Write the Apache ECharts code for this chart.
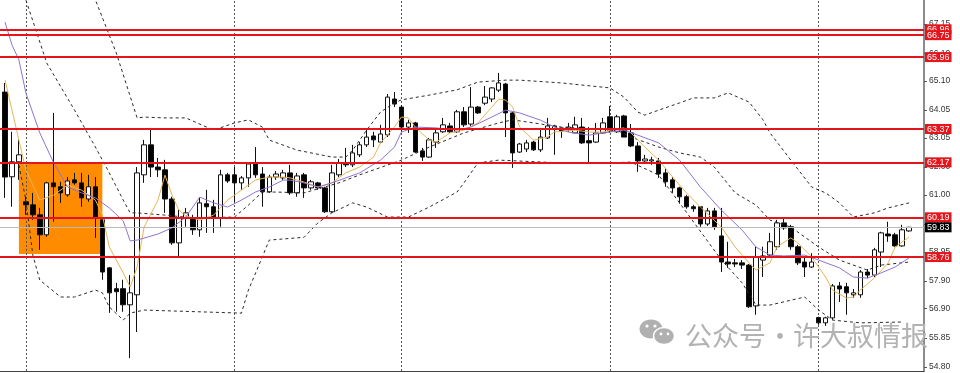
<!DOCTYPE html>
<html><head><meta charset="utf-8">
<script src="https://cdn.jsdelivr.net/npm/echarts@6/dist/echarts.min.js"></script>
<style>html,body{margin:0;padding:0;background:#fff}#c{width:960px;height:373px}</style>
</head><body><div id="c"></div>
<script>
// ---- data ----
const opens = [64.70,61.65,62.19,60.75,60.64,60.28,59.56,61.43,61.29,61.00,
61.54,61.43,60.85,61.29,60.10,58.37,57.62,57.62,57.04,57.40,
61.72,62.80,62.00,61.90,60.85,59.27,60.17,60.17,59.74,60.68,
60.57,60.17,61.72,61.72,61.43,61.61,62.15,61.75,61.11,61.64,
61.61,61.79,61.07,61.72,61.25,61.43,61.25,60.39,61.72,62.15,
62.08,62.44,62.80,63.12,62.90,63.16,64.45,64.16,63.44,63.59,
62.58,62.36,62.90,63.27,63.48,63.27,63.99,63.55,64.16,64.30,
64.45,64.77,64.99,63.95,62.54,62.65,62.90,62.62,63.05,63.37,
63.41,63.34,63.23,63.44,62.95,62.90,63.23,63.81,63.27,63.84,
63.23,62.76,62.22,62.22,62.22,61.79,61.54,61.25,60.93,60.57,
60.57,59.95,60.42,59.52,58.58,58.55,58.55,58.47,57.00,58.65,
58.83,59.13,59.99,59.85,59.13,58.58,58.40,56.58,56.39,56.57,
57.72,57.69,57.40,57.40,58.22,58.11,58.94,59.59,59.56,59.16,
59.70];
const highs = [65.03,63.27,62.98,60.93,61.07,60.53,61.47,63.95,61.47,61.64,
61.79,61.79,61.72,61.64,60.17,58.40,57.83,57.94,58.11,62.00,
62.98,63.41,62.33,62.26,60.93,60.46,60.53,60.28,60.89,61.18,
60.82,61.90,61.79,62.00,61.68,62.15,62.72,62.00,61.72,61.86,
61.90,62.08,61.79,61.79,61.54,61.47,61.29,62.08,62.29,62.69,
62.80,62.90,63.34,63.27,63.52,64.63,64.70,64.23,63.70,63.63,
62.69,63.05,63.34,63.77,63.59,64.06,64.16,64.88,64.20,64.92,
64.88,65.39,65.03,63.99,62.87,62.98,62.95,63.41,63.77,63.52,
63.41,63.59,63.81,63.77,63.44,63.59,63.77,64.20,63.88,63.88,
63.55,62.90,62.44,62.37,62.33,61.97,61.64,61.29,61.00,60.64,
60.57,60.53,60.53,60.53,59.31,58.69,58.65,58.51,59.13,59.13,
59.63,60.10,60.17,59.92,59.20,58.76,58.90,56.61,56.61,57.79,
57.86,57.83,57.61,58.29,58.33,59.09,59.67,60.03,59.63,59.92,
59.85];
const lows = [60.89,60.57,61.54,60.28,60.10,59.02,59.49,60.03,60.71,60.93,
61.36,60.57,60.75,59.45,57.94,56.75,56.79,56.79,55.12,56.06,
61.43,61.64,61.64,60.35,59.20,58.76,59.85,59.56,59.49,59.63,
59.63,59.85,61.43,60.75,61.18,61.29,61.61,60.57,61.07,61.54,
61.54,61.00,60.93,60.89,61.18,61.18,60.35,60.35,61.64,62.00,
62.00,62.36,62.72,62.72,62.87,63.08,64.16,63.27,63.23,62.51,
62.22,62.33,62.69,63.23,63.23,63.23,63.44,63.48,63.91,64.23,
64.34,64.70,63.08,61.97,62.51,62.54,62.58,62.54,63.01,62.44,
63.05,63.27,63.23,62.83,62.15,62.87,63.19,63.23,63.23,63.08,
62.72,61.83,62.15,62.08,61.61,61.29,61.07,60.68,60.50,60.39,
59.85,59.88,59.74,58.22,58.37,58.40,58.33,56.93,56.68,58.04,
58.76,59.02,59.74,59.02,58.47,58.04,58.37,56.32,56.28,56.50,
57.14,56.68,57.29,57.29,58.00,58.04,58.40,59.31,59.13,59.13,
59.67];
const closes = [61.64,62.19,62.44,60.64,60.28,59.56,61.43,61.29,61.07,61.50,
61.43,60.89,61.29,60.17,58.22,57.47,57.51,57.04,57.47,61.79,
62.80,62.00,61.90,60.85,59.27,60.17,60.35,59.74,60.71,60.57,
60.17,61.72,61.50,61.43,61.61,62.11,61.72,61.11,61.64,61.75,
61.79,61.07,61.68,61.25,61.47,61.25,60.39,61.79,62.15,62.08,
62.51,62.80,63.08,62.98,63.19,64.52,64.27,63.44,63.59,62.54,
62.36,62.98,63.23,63.52,63.27,63.99,63.52,64.16,63.95,64.52,
64.85,65.03,63.95,62.51,62.83,62.87,62.62,63.08,63.48,63.48,
63.30,63.44,63.52,62.87,62.87,63.23,63.59,63.30,63.81,63.08,
62.76,62.22,62.29,62.26,61.75,61.47,61.25,60.93,60.57,60.50,
59.95,60.42,59.85,58.58,58.51,58.51,58.47,56.97,58.76,58.80,
59.31,59.99,59.81,59.13,58.55,58.40,58.58,56.39,56.57,57.72,
57.61,57.47,57.47,58.22,58.11,59.02,59.63,59.52,59.16,59.74,
59.83];

// indicator lines read at sampled bars: [barIndex, value]
const maFast = [[0,65.14],[2,62.97],[3,61.89],[5,60.81],[7,60.99],[9,61.35],[11,61.17],[13,60.81],[14,60.27],[15,59.12],[17,58.19],[18,57.68],[19,58.40],[20,59.84],[22,60.81],[23,61.71],[24,61.00],[25,60.45],[26,60.24],[28,60.09],[30,60.27],[32,60.81],[34,61.17],[36,61.53],[38,61.64],[40,61.64],[41,61.61],[43,61.46],[45,61.28],[47,61.43],[49,61.79],[51,62.00],[53,62.36],[54,62.87],[56,63.44],[57,63.80],[58,63.77],[59,63.44],[61,62.97],[62,62.90],[64,63.23],[66,63.33],[68,63.59],[70,64.16],[71,64.45],[72,64.41],[73,64.16],[74,63.44],[76,62.97],[78,63.08],[79,63.26],[82,63.33],[84,63.26],[86,63.26],[87,63.33],[89,63.41],[90,63.23],[92,62.72],[94,62.25],[96,61.64],[98,61.07],[100,60.56],[103,59.84],[105,59.12],[107,58.55],[108,58.29],[110,58.55],[111,59.12],[113,59.45],[114,59.27],[116,58.76],[118,58.04],[119,57.57],[121,57.28],[122,57.32],[123,57.57],[125,58.00],[127,58.55],[128,59.12],[130,59.48]];
const maSlow = [[0,67.22],[1,66.40],[2,65.86],[3,64.67],[5,63.23],[7,62.15],[9,61.28],[11,61.07],[13,60.89],[15,60.53],[17,60.06],[18,59.34],[19,59.37],[22,59.59],[24,59.81],[26,60.20],[28,60.92],[30,60.71],[32,60.56],[34,60.81],[36,61.10],[38,61.28],[40,61.53],[41,61.53],[43,61.43],[45,61.28],[47,61.43],[49,61.61],[51,61.79],[54,62.25],[56,62.72],[57,63.26],[59,63.44],[62,63.41],[65,63.33],[67,63.44],[70,63.80],[72,64.05],[74,63.95],[77,63.69],[79,63.44],[81,63.26],[84,63.15],[87,63.26],[89,63.33],[91,63.15],[94,62.87],[97,62.25],[100,61.28],[103,60.45],[106,59.73],[108,59.12],[110,58.83],[112,58.80],[115,58.83],[117,58.65],[120,58.37],[122,58.04],[124,58.00],[126,58.19],[128,58.40],[130,58.73]];
const bbUpper = [[10,69.74],[13,68.02],[16,66.11],[19,63.77],[20,63.80],[23,63.77],[26,63.77],[30,63.33],[33,63.59],[35,63.70],[37,63.44],[38,62.97],[42,62.61],[47,62.36],[49,62.36],[50,62.61],[52,63.33],[54,63.98],[56,64.31],[57,64.42],[61,64.59],[65,64.78],[68,65.06],[72,65.13],[74,65.13],[80,65.03],[87,64.85],[89,64.52],[91,63.98],[92,63.87],[94,64.05],[97,64.31],[99,64.49],[102,64.49],[104,64.67],[107,64.34],[109,63.70],[110,63.23],[113,62.25],[116,61.28],[118,61.07],[120,60.71],[122,60.20],[125,60.35],[127,60.53],[130,60.71]];
const bbMiddle = [[0,69.80],[3,68.02],[6,65.75],[10,64.05],[13,62.72],[15,61.79],[17,60.81],[18,60.35],[19,60.35],[23,60.27],[27,60.17],[33,60.20],[35,60.63],[37,61.10],[39,61.10],[43,61.07],[48,61.43],[51,61.72],[57,62.25],[61,62.72],[66,63.23],[71,63.59],[73,63.70],[80,63.44],[88,63.33],[90,63.08],[94,62.72],[97,62.51],[100,62.36],[102,62.00],[105,61.07],[108,60.63],[110,60.09],[113,59.84],[117,59.12],[120,58.65],[124,58.29],[126,58.47],[130,58.58]];
const bbLower = [[2,62.07],[3,60.81],[4,58.83],[5,57.93],[8,57.32],[10,57.32],[13,57.57],[14,57.47],[15,56.96],[17,56.49],[18,56.74],[20,56.85],[34,56.74],[35,57.57],[37,58.76],[38,59.37],[43,59.47],[45,59.99],[47,60.35],[50,60.71],[52,60.56],[55,60.20],[58,60.20],[61,60.56],[65,61.10],[66,61.43],[67,61.79],[68,62.15],[71,62.25],[80,62.15],[87,62.15],[90,62.18],[94,61.71],[97,60.71],[103,58.66],[106,57.83],[108,57.03],[110,57.03],[115,57.32],[117,56.85],[119,56.49],[123,56.39],[129,56.42]];

const redLevels = [66.96, 66.75, 65.96, 63.37, 62.17, 60.19, 58.76];
const lastPrice = 59.83;
const yTicks = [54.80, 55.85, 56.90, 57.90, 58.95, 59.95, 61.00, 62.00, 63.05, 64.05, 65.10, 66.10, 67.15];
const periodBars = [3, 33, 57, 87, 117];
const boxBars = [2, 14];
const boxPrices = [62.17, 58.87];
const watermark = ['公众号', '·', '许大叔情报'];

// ---- chart ----
const chart = echarts.init(document.getElementById('c'), null, {renderer: 'canvas'});
const candles = closes.map((c, i) => [i, opens[i], c, lows[i], highs[i]]);
const lblStyle = (bg) => ({show: true, position: 'end', distance: 1, formatter: p => Number(p.value).toFixed(2),
  backgroundColor: bg, color: '#fff', fontSize: 9, fontFamily: 'Liberation Sans', padding: [1, 2, 0, 2], lineHeight: 9});
const levelLines = redLevels.map(v => ({yAxis: v, lineStyle: {color: '#e4161c', width: 2, type: 'solid'}, label: lblStyle('#e4161c')}));
levelLines.push({yAxis: lastPrice, lineStyle: {color: '#b8b8b8', width: 1, type: 'solid'}, label: lblStyle('#000')});

const lineS = (name, data, color, dashed) => ({
  name, type: 'line', data, symbol: 'none', showSymbol: false, z: 3, clip: true,
  lineStyle: {color, width: 1, type: dashed ? [3, 3] : 'solid'}, emphasis: {disabled: true}
});

const upperS = lineS('bbUpper', bbUpper, '#2a2a2a', true);
upperS.markLine = {symbol: ['none', 'none'], silent: true, z: 6, data: levelLines};
const lowerS = lineS('bbLower', bbLower, '#2a2a2a', true);
lowerS.markLine = {symbol: ['none', 'none'], silent: true, z: 1, label: {show: false},
  lineStyle: {color: '#555', type: [2, 2], width: 1}, data: periodBars.map(b => ({xAxis: b}))};

const wmStyle = {fontSize: 27, fontFamily: 'Noto Sans CJK SC', fill: '#b2b2b2', verticalAlign: 'middle'};

chart.setOption({
  animation: false,
  backgroundColor: '#fff',
  grid: {left: 0, right: 36, top: 0, bottom: 2},
  xAxis: {type: 'value', min: -0.719, max: 132.15,
    axisLine: {show: true, onZero: false, lineStyle: {color: '#444', width: 1}},
    axisTick: {show: false}, axisLabel: {show: false}, splitLine: {show: false}},
  yAxis: {type: 'value', position: 'right', min: 54.656, max: 68.016, scale: true,
    splitLine: {show: false},
    axisLine: {show: true, onZero: false, lineStyle: {color: '#8c8c8c', width: 2}},
    axisTick: {show: true, length: 3, customValues: yTicks, lineStyle: {color: '#555'}},
    axisLabel: {customValues: yTicks, formatter: v => v.toFixed(2), fontSize: 8.5,
      fontFamily: 'Liberation Sans', color: '#333', margin: 5}},
  series: [
    {type: 'candlestick', name: 'price', data: candles, z: 2, barWidth: 5,
      dimensions: ['x', 'open', 'close', 'lowest', 'highest'],
      encode: {x: 0, y: [1, 2, 3, 4]},
      itemStyle: {color: '#ffffff', color0: '#000000', borderColor: '#111', borderColor0: '#111', borderWidth: 1},
      markArea: {silent: true, z: 1, itemStyle: {color: '#ff8c00', opacity: 1},
        data: [[{xAxis: boxBars[0], yAxis: boxPrices[0]}, {xAxis: boxBars[1], yAxis: boxPrices[1]}]]}},
    upperS,
    lineS('bbMiddle', bbMiddle, '#2a2a2a', true),
    lowerS,
    lineS('maFast', maFast, '#e7b45a', false),
    lineS('maSlow', maSlow, '#9073d0', false)
  ],
  graphic: [
    {type: 'ellipse', z: 100, shape: {cx: 651, cy: 329, rx: 11.5, ry: 9.5}, style: {fill: '#b0b0b0'}},
    {type: 'ellipse', z: 101, shape: {cx: 664, cy: 336, rx: 10.5, ry: 8.5}, style: {fill: '#b0b0b0', stroke: '#fff', lineWidth: 1.5}},
    {type: 'circle', z: 102, shape: {cx: 647, cy: 326, r: 1.6}, style: {fill: '#fff'}},
    {type: 'circle', z: 102, shape: {cx: 655, cy: 326, r: 1.6}, style: {fill: '#fff'}},
    {type: 'circle', z: 102, shape: {cx: 661, cy: 334, r: 1.4}, style: {fill: '#fff'}},
    {type: 'circle', z: 102, shape: {cx: 668, cy: 334, r: 1.4}, style: {fill: '#fff'}},
    {type: 'text', z: 100, x: 685, y: 336, style: Object.assign({text: watermark[0]}, wmStyle)},
    {type: 'text', z: 100, x: 780, y: 336, style: Object.assign({text: watermark[1], align: 'center'}, wmStyle)},
    {type: 'text', z: 100, x: 793, y: 336, style: Object.assign({text: watermark[2]}, wmStyle)}
  ]
});
</script></body></html>
